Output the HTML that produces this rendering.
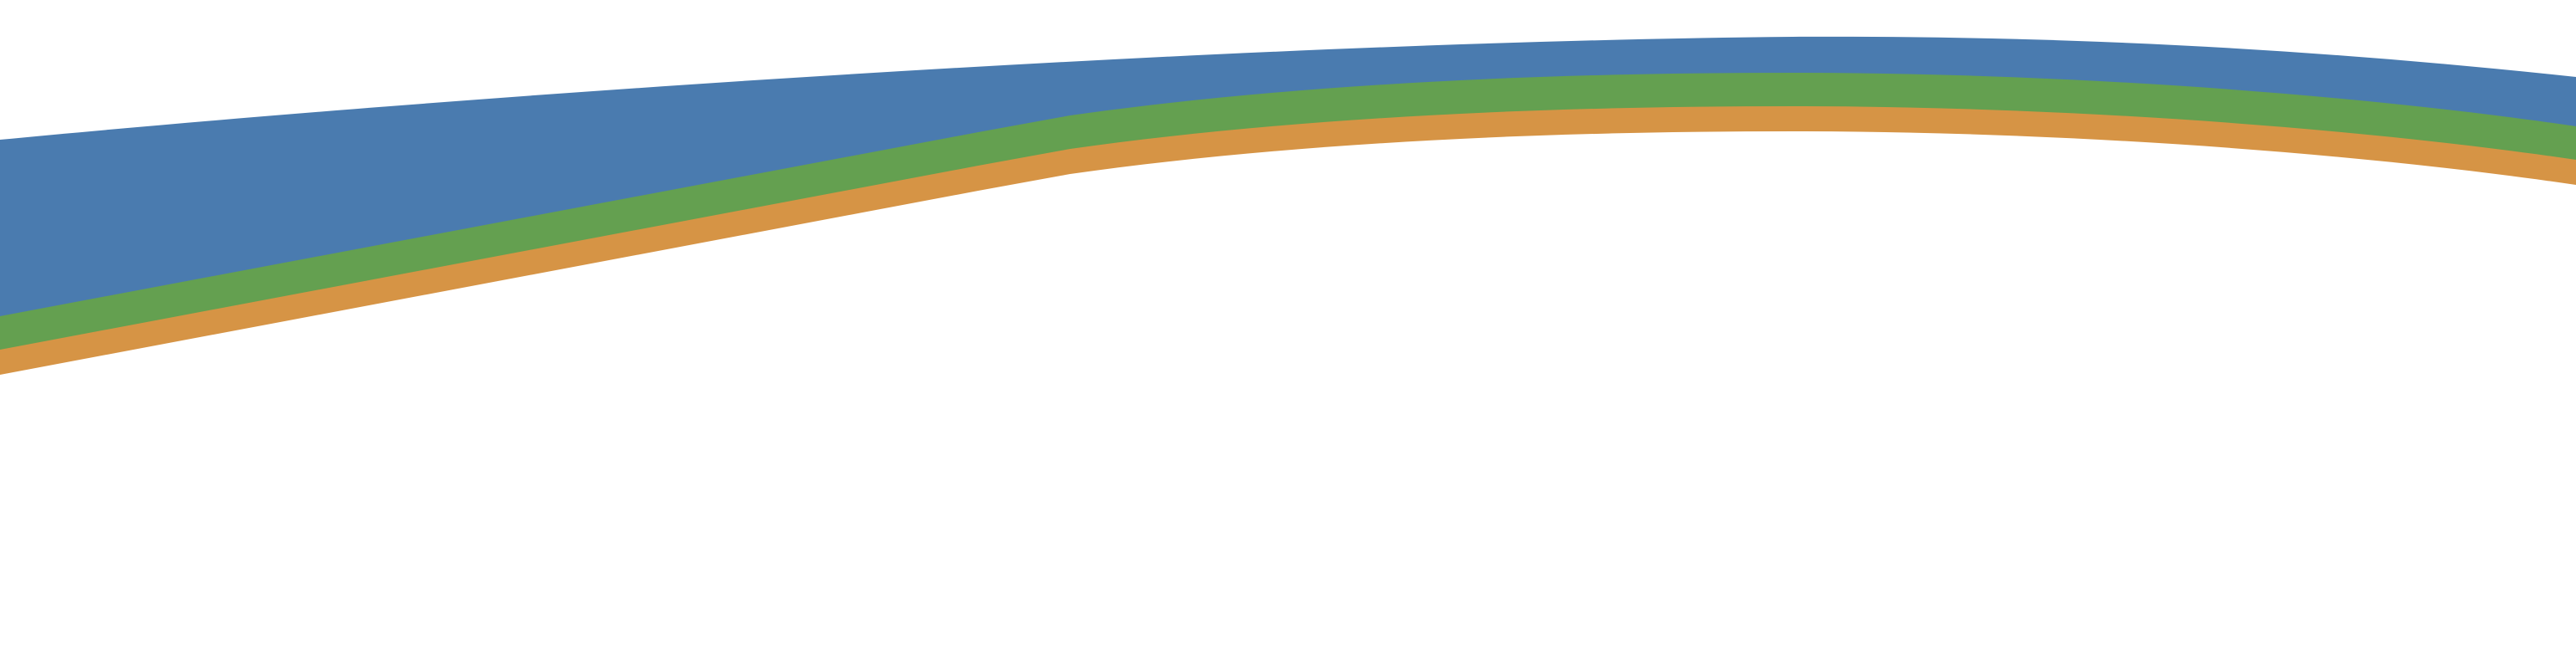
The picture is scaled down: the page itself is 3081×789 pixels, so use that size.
<!DOCTYPE html>
<html>
<head>
<meta charset="utf-8">
<style>
  html,body{margin:0;padding:0;background:#fff;width:3081px;height:789px;overflow:hidden;}
  svg{display:block;}
</style>
</head>
<body>
<svg width="3081" height="789" viewBox="0 0 3081 789" xmlns="http://www.w3.org/2000/svg">
  <rect x="0" y="0" width="3081" height="789" fill="#ffffff"/>
  <path fill="#4A7BAF"
        d="M0,167 C600,110 1500,50 2144,44 C2500,42 2800,62 3081,92 L3081,789 L0,789 Z"/>
  <path fill="#64A050"
        d="M0,378 L1170,158 Q1225,148 1280,138 C1550,100 1850,87 2144,87 C2450,87 2800,110 3081,151 L3081,789 L0,789 Z"/>
  <path fill="#D69445"
        d="M0,418 L1170,198 Q1225,188 1280,178 C1550,140 1850,127 2144,127 C2450,127 2800,150 3081,191 L3081,789 L0,789 Z"/>
  <path fill="#ffffff"
        d="M0,448 L1170,228 Q1225,218 1280,208 C1550,170 1850,157 2144,157 C2450,157 2800,180 3081,221 L3081,789 L0,789 Z"/>
</svg>
</body>
</html>
